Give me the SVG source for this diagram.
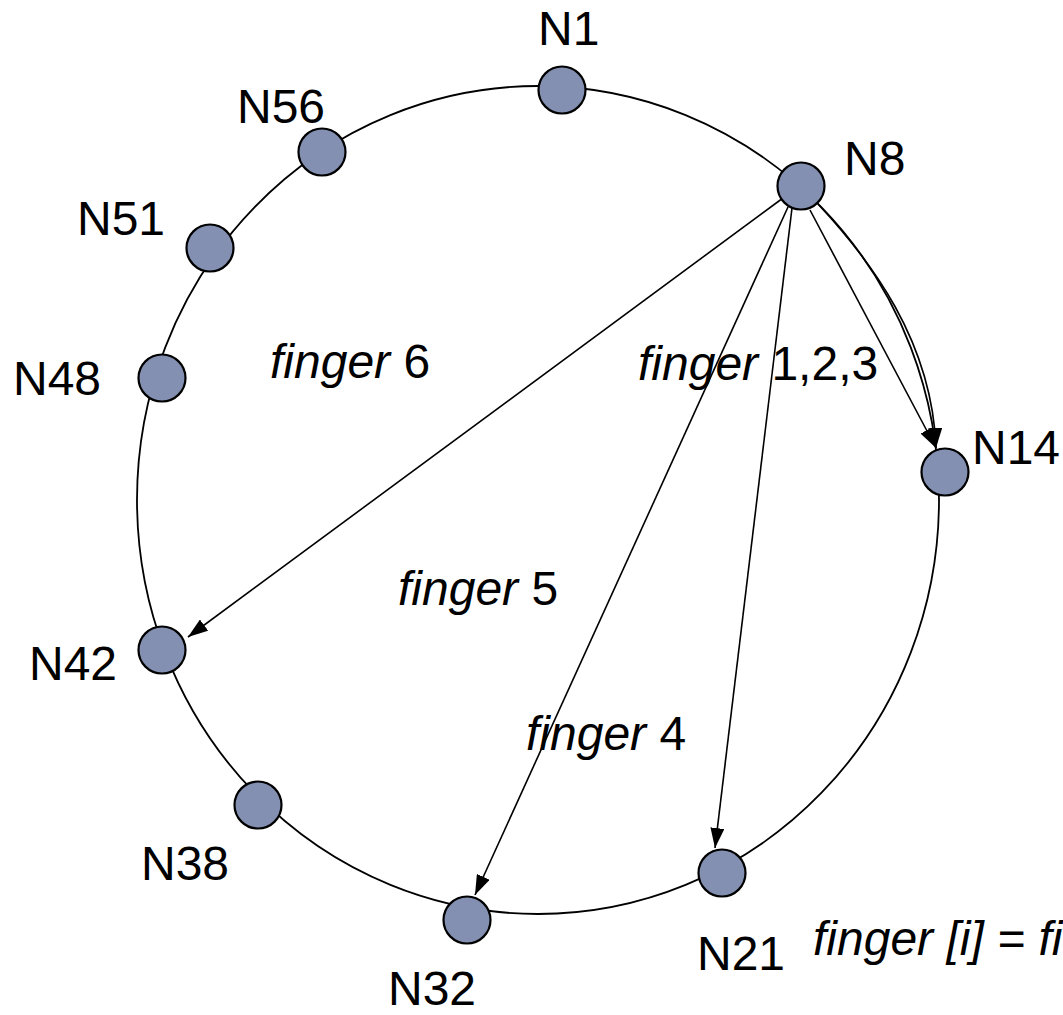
<svg xmlns="http://www.w3.org/2000/svg" width="1063" height="1015" viewBox="0 0 1063 1015">
  <style>
    .ring { fill: none; stroke: #000; stroke-width: 1.8; }
    .node circle { fill: #8490B2; stroke: #000; stroke-width: 2.2; }
    .lbl { font-family: "Liberation Sans", Arial, sans-serif; font-size: 48px; fill: #000; }
    .it { font-style: italic; }
    .edge { fill: none; stroke: #000; stroke-width: 1.6; }
  </style>
  <defs>
    <marker id="arrow" markerUnits="userSpaceOnUse" markerWidth="21" markerHeight="14" refX="20" refY="7" orient="auto">
      <path d="M0,0 L20,7 L0,14 z" fill="#000"/>
    </marker>
  </defs>

  <rect width="1063" height="1015" fill="#fff"/>

  <!-- identifier ring -->
  <ellipse class="ring" cx="538" cy="500" rx="401" ry="414"/>

  <!-- finger pointers from N8 -->
  <g id="connectors">
    <path class="edge" d="M783,198 L188,637" marker-end="url(#arrow)"/>
    <path class="edge" d="M788,207 L475,895" marker-end="url(#arrow)"/>
    <path class="edge" d="M792,208 L715,848" marker-end="url(#arrow)"/>
    <path class="edge" d="M810,210 L936,448" marker-end="url(#arrow)"/>
    <path class="edge" d="M818,204 C870,260 932,340 936,448" marker-end="url(#arrow)"/>
  </g>

  <!-- nodes -->
  <g id="n1" class="node"><circle cx="562" cy="90" r="23.5"/><text class="lbl" x="538" y="45">N1</text></g>
  <g id="n8" class="node"><circle cx="801" cy="186" r="23.5"/><text class="lbl" x="844" y="175">N8</text></g>
  <g id="n14" class="node"><circle cx="945" cy="472" r="23.5"/><text class="lbl" x="972" y="464">N14</text></g>
  <g id="n21" class="node"><circle cx="722" cy="873" r="23.5"/><text class="lbl" x="697" y="970">N21</text></g>
  <g id="n32" class="node"><circle cx="467" cy="920" r="23.5"/><text class="lbl" x="388" y="1005">N32</text></g>
  <g id="n38" class="node"><circle cx="258" cy="805" r="23.5"/><text class="lbl" x="141" y="880">N38</text></g>
  <g id="n42" class="node"><circle cx="162" cy="650" r="23.5"/><text class="lbl" x="29" y="680">N42</text></g>
  <g id="n48" class="node"><circle cx="162" cy="378" r="23.5"/><text class="lbl" x="13" y="395">N48</text></g>
  <g id="n51" class="node"><circle cx="210" cy="248" r="23.5"/><text class="lbl" x="77" y="235">N51</text></g>
  <g id="n56" class="node"><circle cx="322" cy="152" r="23.5"/><text class="lbl" x="237" y="123">N56</text></g>

  <!-- finger labels -->
  <g id="labels">
    <text class="lbl" x="270" y="378"><tspan class="it">finger</tspan> 6</text>
    <text class="lbl" x="638" y="380"><tspan class="it">finger</tspan> 1,2,3</text>
    <text class="lbl" x="398" y="605"><tspan class="it">finger</tspan> 5</text>
    <text class="lbl" x="526" y="750"><tspan class="it">finger</tspan> 4</text>
    <text class="lbl it" x="813" y="955">finger [i] = fi</text>
  </g>
</svg>
